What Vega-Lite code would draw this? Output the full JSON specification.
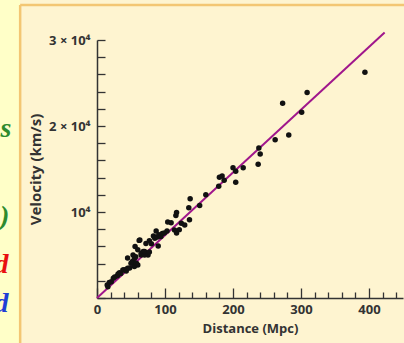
{
  "$schema": "https://vega.github.io/schema/vega-lite/v6.json",
  "autosize": {"type": "none"},
  "width": 306,
  "height": 258,
  "padding": {"left": 97, "top": 40, "right": 1, "bottom": 45},
  "background": "#FEF4D0",
  "config": {
    "view": {"stroke": null},
    "axis": {
      "labelFont": "Open Sans",
      "labelFontWeight": "bold",
      "labelColor": "#333333",
      "labelFontSize": 13,
      "titleFont": "Open Sans",
      "titleFontWeight": "bold",
      "titleColor": "#333333",
      "titleFontSize": 13,
      "domainColor": "#333333",
      "domainWidth": 1.5,
      "tickColor": "#333333",
      "tickWidth": 1.3,
      "grid": false,
      "labelOverlap": false,
      "tickCount": 40
    }
  },
  "datasets": {
    "galaxies": [
      {"distance": 15, "velocity": 1500}, {"distance": 16, "velocity": 1300}, {"distance": 18, "velocity": 1800},
      {"distance": 21, "velocity": 1900}, {"distance": 24, "velocity": 2300}, {"distance": 26, "velocity": 2450},
      {"distance": 30, "velocity": 2600}, {"distance": 31, "velocity": 2800}, {"distance": 33, "velocity": 2950},
      {"distance": 35, "velocity": 2850}, {"distance": 38, "velocity": 3250}, {"distance": 40, "velocity": 3300},
      {"distance": 43, "velocity": 3150}, {"distance": 45, "velocity": 3450}, {"distance": 45, "velocity": 4650},
      {"distance": 48, "velocity": 3500}, {"distance": 50, "velocity": 4050}, {"distance": 52, "velocity": 4250},
      {"distance": 53, "velocity": 5000}, {"distance": 55, "velocity": 3650}, {"distance": 55, "velocity": 4600},
      {"distance": 56, "velocity": 6000}, {"distance": 57, "velocity": 4800}, {"distance": 58, "velocity": 4050},
      {"distance": 60, "velocity": 3850}, {"distance": 60, "velocity": 5600}, {"distance": 62, "velocity": 6700},
      {"distance": 63, "velocity": 6750}, {"distance": 65, "velocity": 5000}, {"distance": 65, "velocity": 5200},
      {"distance": 68, "velocity": 5400}, {"distance": 70, "velocity": 5000}, {"distance": 70, "velocity": 5400},
      {"distance": 72, "velocity": 6350}, {"distance": 75, "velocity": 5000}, {"distance": 77, "velocity": 6650},
      {"distance": 77, "velocity": 5350}, {"distance": 80, "velocity": 6300}, {"distance": 83, "velocity": 7200},
      {"distance": 85, "velocity": 6950}, {"distance": 87, "velocity": 7800}, {"distance": 89, "velocity": 7100},
      {"distance": 90, "velocity": 6050}, {"distance": 91, "velocity": 7350}, {"distance": 94, "velocity": 7150},
      {"distance": 96, "velocity": 7500}, {"distance": 99, "velocity": 7550}, {"distance": 103, "velocity": 7800},
      {"distance": 104, "velocity": 8850}, {"distance": 109, "velocity": 8750}, {"distance": 114, "velocity": 7900},
      {"distance": 116, "velocity": 9600}, {"distance": 117, "velocity": 9950}, {"distance": 117, "velocity": 7550},
      {"distance": 121, "velocity": 7950}, {"distance": 124, "velocity": 8700}, {"distance": 129, "velocity": 8500},
      {"distance": 135, "velocity": 10500}, {"distance": 136, "velocity": 9100}, {"distance": 137, "velocity": 11550},
      {"distance": 151, "velocity": 10750}, {"distance": 160, "velocity": 12000}, {"distance": 179, "velocity": 13000},
      {"distance": 180, "velocity": 14050}, {"distance": 184, "velocity": 14200}, {"distance": 187, "velocity": 13700},
      {"distance": 200, "velocity": 15150}, {"distance": 204, "velocity": 13450}, {"distance": 204, "velocity": 14750},
      {"distance": 215, "velocity": 15150}, {"distance": 237, "velocity": 15550}, {"distance": 238, "velocity": 17450},
      {"distance": 240, "velocity": 16750}, {"distance": 262, "velocity": 18400}, {"distance": 273, "velocity": 22650},
      {"distance": 282, "velocity": 18950}, {"distance": 301, "velocity": 21600}, {"distance": 309, "velocity": 23900},
      {"distance": 394, "velocity": 26250}
    ],
    "fit": [
      {"distance": 0, "velocity": 0},
      {"distance": 423, "velocity": 30880}
    ],
    "fragments": [
      {"text": "s", "distance": -126, "velocity": 18700, "group": "g"},
      {"text": ")", "distance": -129, "velocity": 8500, "group": "g"},
      {"text": "d", "distance": -130, "velocity": 2900, "group": "r"},
      {"text": "d", "distance": -130, "velocity": -1630, "group": "b"}
    ],
    "strip": [{"left": -200, "right": -113, "top": 40000, "bottom": -9000}],
    "edges": [
      {"x1": -113, "x2": -113, "y1": 34070, "y2": -9000},
      {"x1": -113, "x2": 700, "y1": 34070, "y2": 34070}
    ]
  },
  "layer": [
    {
      "data": {"name": "strip"},
      "mark": {"type": "rect", "fill": "#FFFFC8", "clip": false},
      "encoding": {
        "x": {"field": "left", "type": "quantitative"},
        "x2": {"field": "right"},
        "y": {"field": "top", "type": "quantitative"},
        "y2": {"field": "bottom"}
      }
    },
    {
      "data": {"name": "edges"},
      "mark": {"type": "rule", "color": "#F3C673", "strokeWidth": 2.5, "clip": false},
      "encoding": {
        "x": {"field": "x1", "type": "quantitative"},
        "x2": {"field": "x2"},
        "y": {"field": "y1", "type": "quantitative"},
        "y2": {"field": "y2"}
      }
    },
    {
      "data": {"name": "fragments"},
      "mark": {"type": "text", "align": "right", "baseline": "alphabetic", "font": "Liberation Serif", "fontStyle": "italic", "fontWeight": "bold", "fontSize": 28, "clip": false},
      "encoding": {
        "x": {"field": "distance", "type": "quantitative"},
        "y": {"field": "velocity", "type": "quantitative"},
        "text": {"field": "text"},
        "color": {"field": "group", "type": "nominal", "scale": {"domain": ["g", "r", "b"], "range": ["#2E8B2E", "#E81010", "#1F3FD6"]}, "legend": null}
      }
    },
    {
      "data": {"name": "fit"},
      "mark": {"type": "line", "color": "#A0168C", "strokeWidth": 2, "clip": false},
      "encoding": {
        "x": {"field": "distance", "type": "quantitative"},
        "y": {"field": "velocity", "type": "quantitative"}
      }
    },
    {
      "data": {"name": "galaxies"},
      "mark": {"type": "circle", "color": "#111111", "opacity": 1, "size": 30},
      "encoding": {
        "x": {
          "field": "distance", "type": "quantitative",
          "scale": {"domain": [0, 450], "nice": false, "zero": false},
          "axis": {
            "title": "Distance (Mpc)",
            "values": [0, 20, 40, 60, 80, 100, 120, 140, 160, 180, 200, 220, 240, 260, 280, 300, 320, 340, 360, 380, 400, 420, 440],
            "tickCount": 40,
            "labelExpr": "datum.value % 100 === 0 ? datum.label : ''",
            "tickSize": {"condition": {"test": "datum.value % 100 === 0", "value": -10}, "value": -6},
            "labelPadding": 15,
            "titlePadding": 2,
            "labelFlush": false
          }
        },
        "y": {
          "field": "velocity", "type": "quantitative",
          "scale": {"domain": [0, 30000], "nice": false, "zero": false},
          "axis": {
            "title": "Velocity (km/s)",
            "titleFontSize": 15,
            "values": [0, 2000, 4000, 6000, 8000, 10000, 12000, 14000, 16000, 18000, 20000, 22000, 24000, 26000, 28000, 30000],
            "tickCount": 40,
            "labelExpr": "datum.value === 10000 ? '10⁴' : datum.value === 20000 ? '2 × 10⁴' : datum.value === 30000 ? '3 × 10⁴' : ''",
            "tickSize": -8,
            "labelPadding": 15,
            "titlePadding": 5,
            "labelFlush": false
          }
        }
      }
    }
  ]
}
